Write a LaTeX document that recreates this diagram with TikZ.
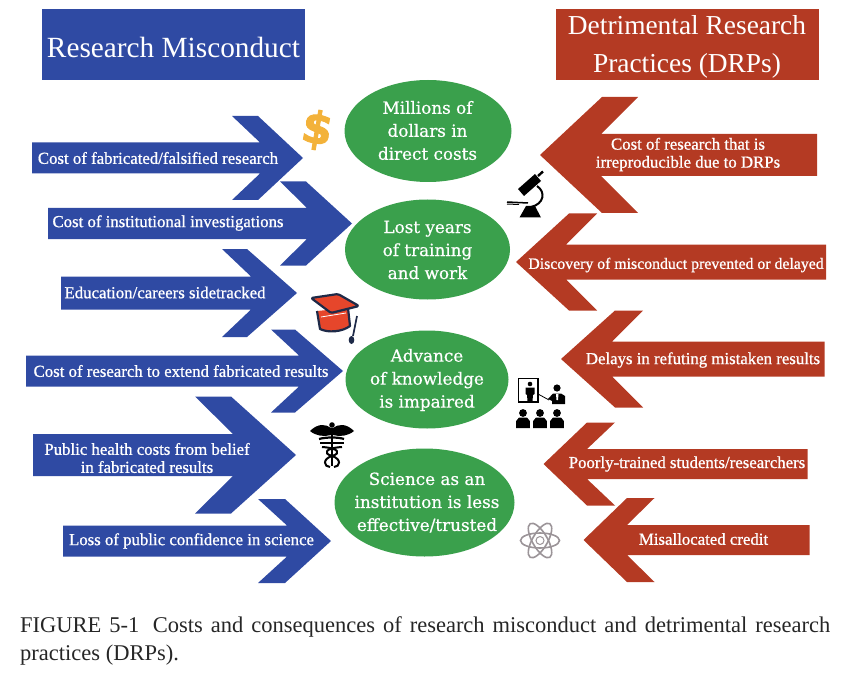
\documentclass[tikz,border=0pt]{standalone}
\usepackage{fontspec}
\setmainfont{Liberation Serif}
\newfontfamily\arrowfont[FakeBold=0.9]{Liberation Serif}
\newfontfamily\ovalfont[FakeBold=0.6]{DejaVu Serif}
\newfontfamily\iconfont[BoldFeatures={FakeBold=2}]{DejaVu Sans}
\definecolor{drblue}{HTML}{2F4AA3}
\definecolor{drred}{HTML}{B43A23}
\definecolor{drgreen}{HTML}{3AA04C}
\definecolor{capnavy}{HTML}{1E2A48}
\definecolor{capred}{HTML}{E6462B}
\definecolor{coinyellow}{HTML}{F3B23A}
\definecolor{atomgray}{HTML}{9B9498}

\begin{document}
\begin{tikzpicture}[x=1pt, y=-1pt,
    headbox/.style={text=white, align=center, font=\fontsize{29.3}{38}\selectfont},
    ovaltext/.style={text=white, align=center, font=\fontsize{16.8}{23}\ovalfont},
    arrowtext/.style={text=white, align=center, font=\fontsize{16.8}{18}\arrowfont}]

% Frame
\useasboundingbox (0,0) rectangle (850,676);

% Headers
\fill[drblue] (42,9) rectangle (305,80);
\fill[drred] (556,9) rectangle (819,80);
\node[headbox] (misconduct) at (173.5,47) {Research Misconduct};
\node[headbox, font=\fontsize{27.4}{38}\selectfont] (drps) at (687,47) {Detrimental Research\\Practices (DRPs)};

% Left arrows: name, tail, middle, half shaft, notch, head back, head front, half head, tip
\foreach \nm/\xa/\yc/\hs/\xn/\xb/\xf/\hh/\xt/\xl/\yl/\txt in {
    fabricated/32/158/15.5/260/232/258/42/303/158/158/{Cost of fabricated/falsified research},
    institutional/48/223.5/15.5/307/280/306/42/352/168/223/{Cost of institutional investigations},
    sidetracked/61/293/16.5/251/222/247/44/297/165/292.5/{Education/careers sidetracked},
    extend/26/371/15.5/299/271/295/41.5/343/181/371/{Cost of research to extend fabricated results},
    belief/33/455/21/233/195/231/58.5/296/147/458/{Public health costs from belief\\in fabricated results},
    confidence/63/541/15.5/287/258/285/42/331/191.5/541/{Loss of public confidence in science}} {
  \fill[drblue] (\xa,\yc-\hs) -- (\xn,\yc-\hs) -- (\xb,\yc-\hh) -- (\xf,\yc-\hh) -- (\xt,\yc)
    -- (\xf,\yc+\hh) -- (\xb,\yc+\hh) -- (\xn,\yc+\hs) -- (\xa,\yc+\hs) -- cycle;
  \node[arrowtext] (\nm) at (\xl,\yl) {\txt};
}

% Right arrows
\foreach \nm/\xa/\yc/\hs/\xn/\xb/\xf/\hh/\xt/\xl/\yl/\txt in {
    irreproducible/817/155/21/601/638/602/58/540/688/154.5/{Cost of research that is\\irreproducible due to DRPs},
    discovery/826/262/17.5/566/597/569/48.5/516/676/265/{\fontsize{15.8}{18}\selectfont Discovery of misconduct prevented or delayed},
    refuting/824.5/359/17.5/612/643/615/48.5/561/703/360/{Delays in refuting mistaken results},
    trained/807.5/464/15/587/615/587/41.5/543.5/687/464/{Poorly-trained students/researchers},
    credit/809.5/540/15/627/654.5/627/42/583.5/703.5/539/{Misallocated credit}} {
  \fill[drred] (\xa,\yc-\hs) -- (\xn,\yc-\hs) -- (\xb,\yc-\hh) -- (\xf,\yc-\hh) -- (\xt,\yc)
    -- (\xf,\yc+\hh) -- (\xb,\yc+\hh) -- (\xn,\yc+\hs) -- (\xa,\yc+\hs) -- cycle;
  \node[arrowtext] (\nm) at (\xl,\yl) {\txt};
}

% Ovals
\fill[drgreen] (428,131) ellipse[x radius=83.5, y radius=51];
\fill[drgreen] (427.5,249.5) ellipse[x radius=82.5, y radius=50];
\fill[drgreen] (427,379.5) ellipse[x radius=81.5, y radius=49];
\fill[drgreen] (424.5,502.5) ellipse[x radius=90, y radius=54];
\node[ovaltext] (direct) at (427.5,130.5) {Millions of\\dollars in\\direct costs};
\node[ovaltext] (training) at (427.5,250) {Lost years\\of training\\and work};
\node[ovaltext] (knowledge) at (427,380) {Advance\\of knowledge\\is impaired};
\node[ovaltext] (institution) at (427,502.5) {Science as an\\institution is less\\effective/trusted};

% Dollar
\node[text=coinyellow, rotate=-10, font=\fontsize{44}{44}\iconfont\bfseries] (dollar) at (317,130) {\$};

% Mortarboard
\fill[capred] (317,311) -- (348,308) -- (350,327) -- (335,332) -- (321,330) -- cycle;
\draw[capnavy, line width=2.2pt, line join=round] (317,311) -- (320,329) .. controls (328,333) and (342,332) .. (350,326) -- (348,308);
\draw[capnavy, fill=capred, line width=2.2pt, line join=round, rounded corners=1.5pt] (311,298) -- (338,294) -- (359,306) -- (331,313) -- cycle;
\draw[white, line width=.8pt] (321,317) -- (346,313);
\draw[capnavy, line width=1.7pt] (357,316) -- (353,336);
\fill[capnavy] (351.5,340) ellipse[x radius=2.8, y radius=4];

% Microscope
\fill[black] (518,189) -- (535,174) -- (541,181) -- (524,196) -- cycle;
\draw[black, line width=2.4pt] (538,176) -- (543,171.5);
\draw[black, line width=2pt] (537,186) .. controls (546,192) and (544,204) .. (531,207);
\draw[black, line width=1.5pt] (507,202) -- (528,203);
\draw[black, line width=1pt] (507,204) -- (519,204.5);
\fill[black] (519.5,217.5) -- (541,217.5) -- (535,206) -- (526,206) -- cycle;

% Lecture
\draw[black, line width=1.1pt] (518.5,378.5) rectangle (538,402);
\fill[black] (530,384) circle (2.3);
\fill[black] (525.5,387.5) -- (534.5,387.5) -- (534.5,394) -- (533,395) -- (532.5,401) -- (527.5,401) -- (527,395) -- (525.5,394) -- cycle;
\draw[black, line width=.8pt] (538,394) -- (549,400);
\fill[black] (557,388) circle (3.6);
\fill[black] (548,399) -- (553,393.5) -- (561,393.5) -- (565,396) -- (565,404) -- (552,404) -- (552,401) -- cycle;
\fill[white] (556,394) -- (558.5,394) -- (558,400) -- (556.5,400) -- cycle;
\foreach \xh in {523,540,557} {
  \fill[black] (\xh,413) circle (3.9);
  \fill[black] (\xh-6.8,428) -- (\xh-6.8,421) -- (\xh-4,417.5) -- (\xh+4,417.5) -- (\xh+6.8,421) -- (\xh+6.8,428) -- cycle;
}

% Caduceus
\fill[black] (332,425) circle (2.8);
\fill[black] (310,431) .. controls (318,423) and (326,424) .. (331,428) -- (333,428) .. controls (338,424) and (346,423) .. (354,431)
  .. controls (348,436) and (340,437) .. (333,435) -- (331,435) .. controls (324,437) and (316,436) .. (310,431) -- cycle;
\draw[black, line width=2.4pt] (332,428) -- (332,466);
\draw[black, line width=2.2pt] (319,439) .. controls (326,437) and (338,437) .. (344,439);
\draw[black, line width=1.8pt] (320,443) -- (344,443);
\draw[black, line width=2pt] (322,447) .. controls (338,448) and (342,453) .. (332,456) .. controls (322,459) and (324,467) .. (330,467);
\draw[black, line width=2pt] (342,447) .. controls (326,448) and (322,453) .. (332,456) .. controls (342,459) and (340,467) .. (334,467);

% Atom
\begin{scope}[shift={(540,540.5)}]
  \foreach \ang in {0,60,120} {
    \draw[atomgray, line width=1.6pt, rotate=\ang] (0,0) ellipse[x radius=19.5, y radius=7.5];
  }
  \draw[atomgray, line width=1pt] (0,0) circle (4);
\end{scope}

% Caption
\node[anchor=north west, text width=810pt, align=justify, inner sep=0pt, text=black!85,
      font=\fontsize{22.5}{28}\selectfont] (caption) at (20,616)
  {FIGURE 5-1\hspace{.25em} Costs and consequences of research misconduct and detrimental research\linebreak practices (DRPs).};

\end{tikzpicture}
\end{document}
